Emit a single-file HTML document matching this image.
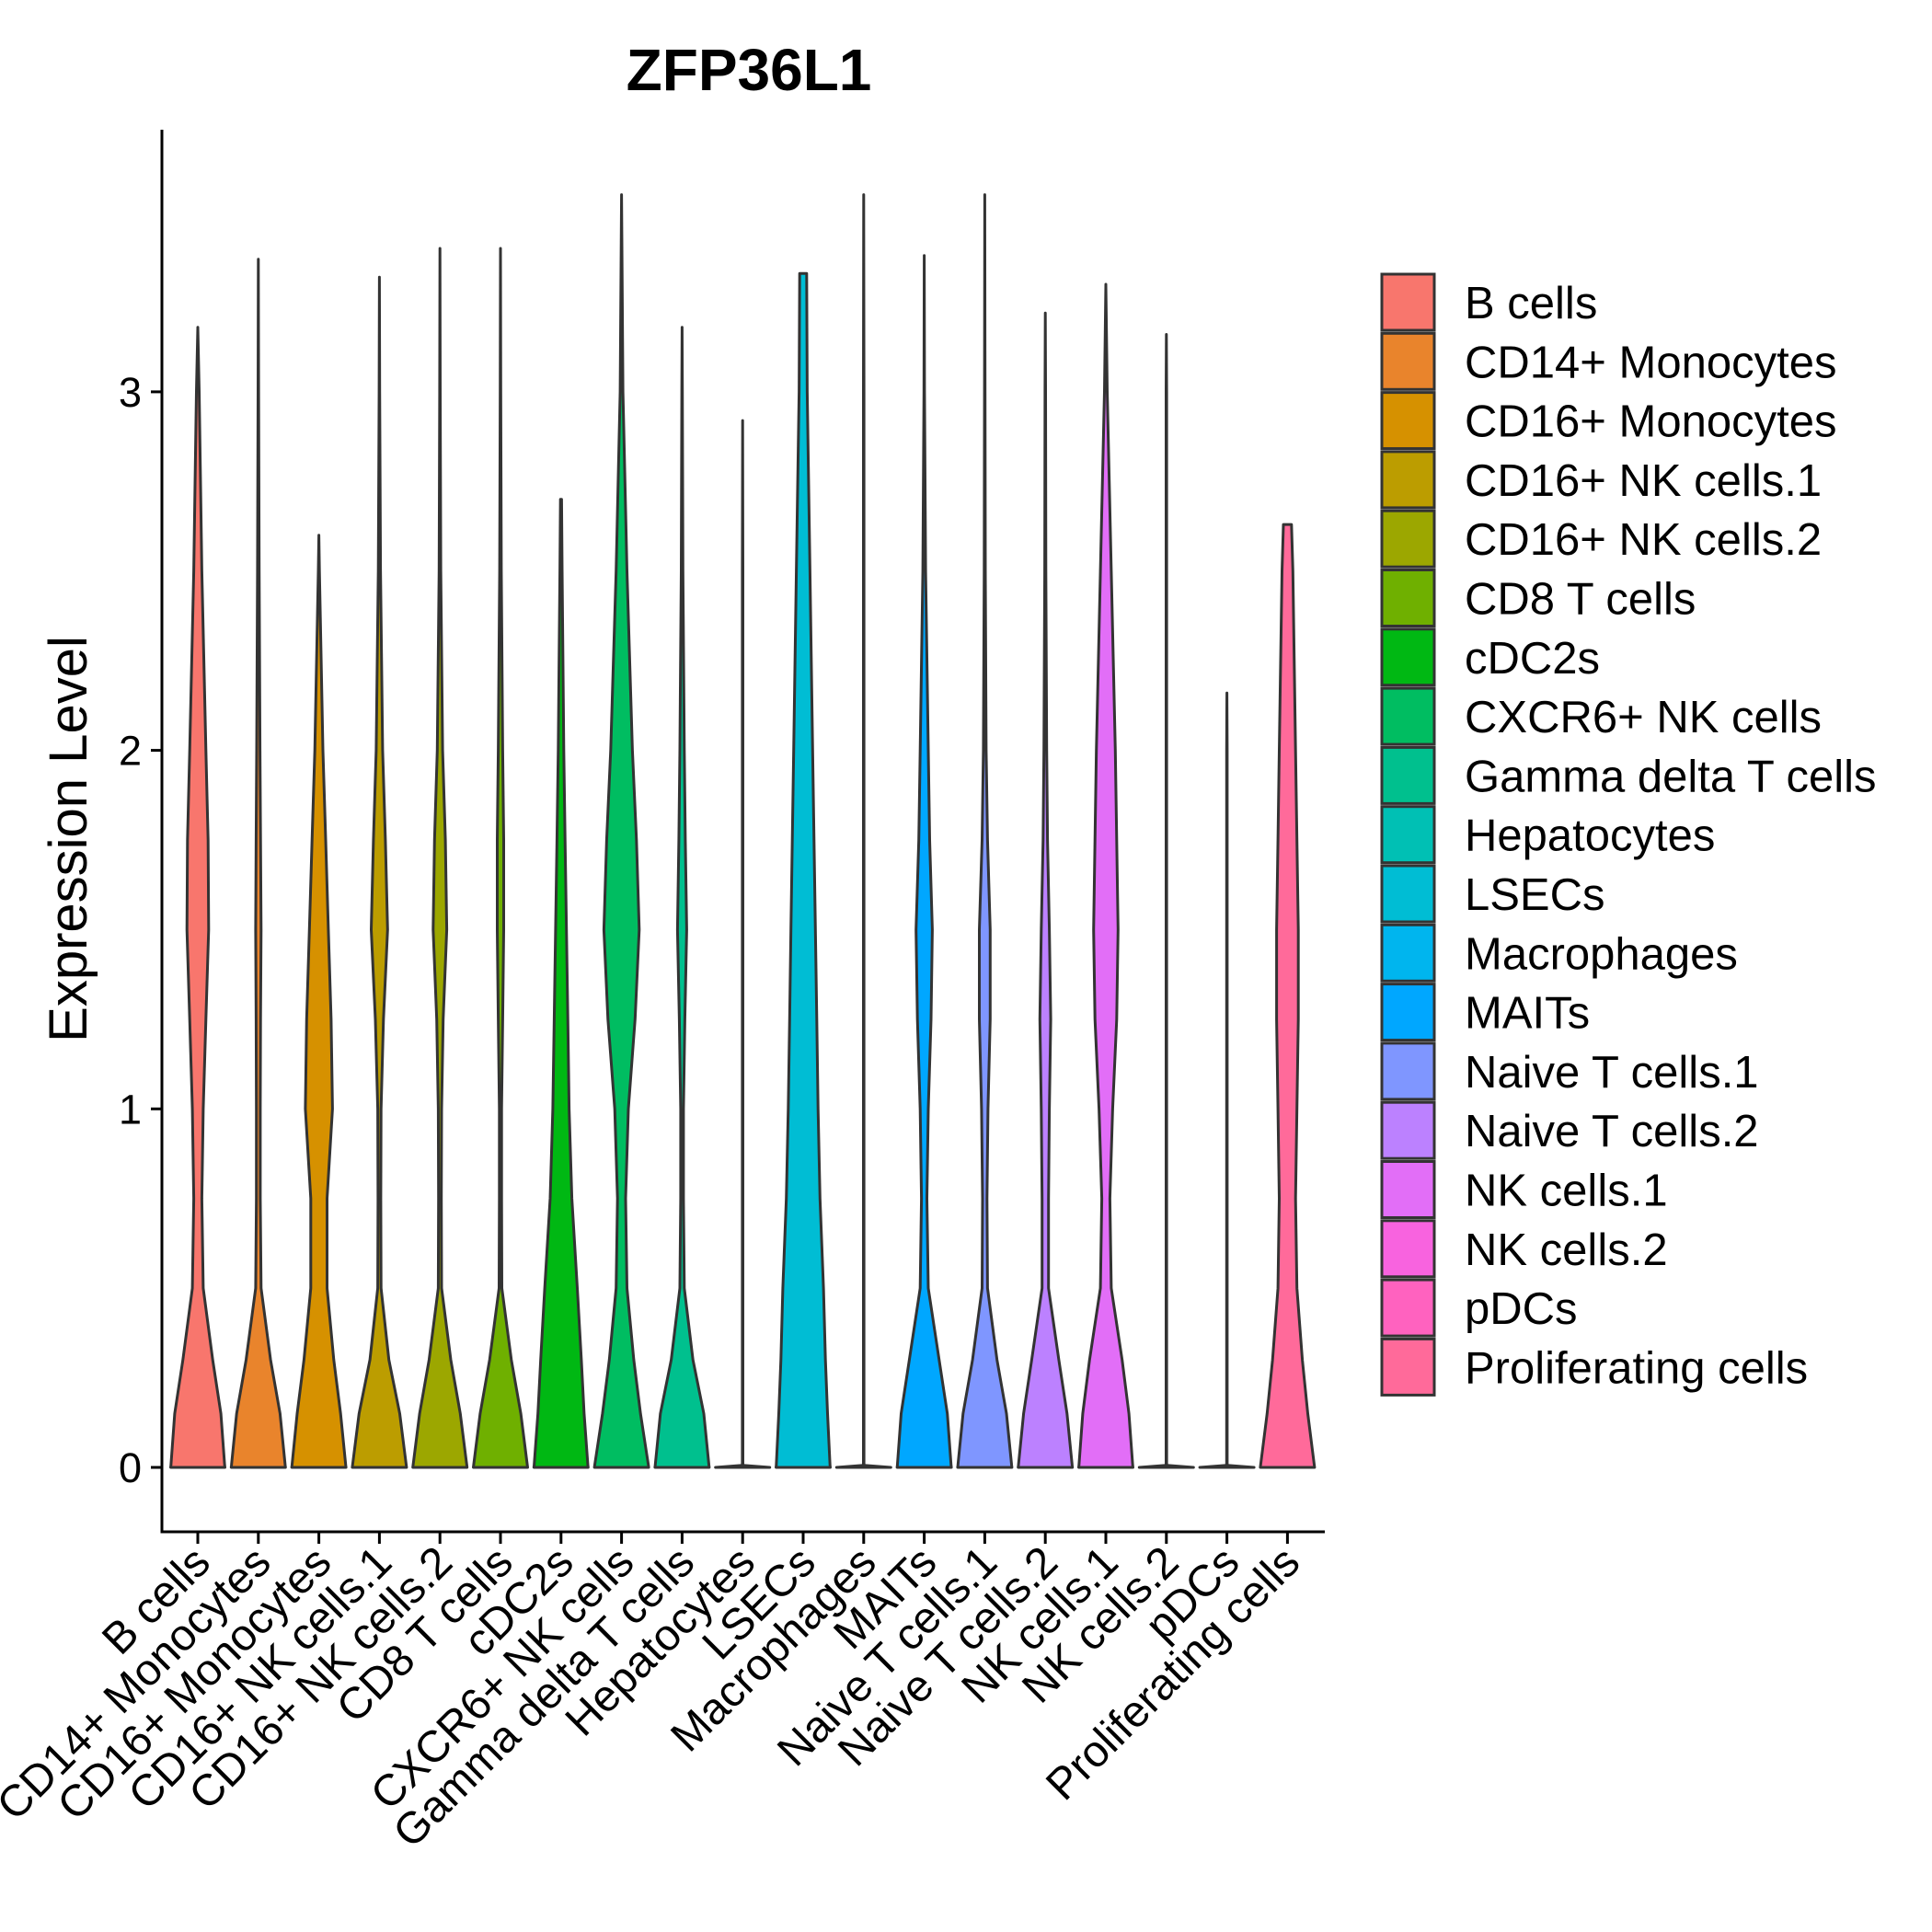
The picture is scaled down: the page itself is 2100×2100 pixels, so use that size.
<!DOCTYPE html>
<html><head><meta charset="utf-8"><style>
html,body{margin:0;padding:0;background:#fff}
svg{display:block;font-family:"Liberation Sans",Arial,sans-serif}
</style></head><body>
<svg id="chart" width="2100" height="2100" viewBox="0 0 2100 2100">
<text x="814" y="98" font-size="64" font-weight="bold" text-anchor="middle">ZFP36L1</text>
<text transform="translate(94,912) rotate(-90)" font-size="58" text-anchor="middle">Expression Level</text>
<g id="violins"></g>
<g id="axes"></g>
<g id="legend"></g>
</svg>
<script>
const categories=["B cells","CD14+ Monocytes","CD16+ Monocytes","CD16+ NK cells.1","CD16+ NK cells.2","CD8 T cells","cDC2s","CXCR6+ NK cells","Gamma delta T cells","Hepatocytes","LSECs","Macrophages","MAITs","Naive T cells.1","Naive T cells.2","NK cells.1","NK cells.2","pDCs","Proliferating cells"];
const colors=["#F8766D","#E9842C","#D69100","#BC9D00","#9CA700","#6FB000","#00B813","#00BD61","#00C08E","#00C0B4","#00BDD4","#00B5EE","#00A7FF","#7F96FF","#BC81FF","#E26EF7","#F863DF","#FF62BF","#FF6A9A"];
const maxValues=[3.18,3.37,2.6,3.32,3.4,3.4,2.7,3.55,3.18,2.92,3.33,3.55,3.38,3.55,3.22,3.3,3.16,2.16,2.63];
const topWidths=[0,0,0,0,0,0,0.02,0,0,0,0.13,0,0,0,0,0,0,0,0.15];
const levels=[0,0.006,0.15,0.3,0.5,0.75,1,1.25,1.5,1.75,2,2.5,3];
const widths=[
[1,0.99,0.85,0.55,0.2,0.15,0.2,0.3,0.4,0.38,0.3,0.15,0.05],
[1,0.99,0.8,0.45,0.1,0.07,0.07,0.08,0.1,0.08,0.06,0.03,0.01],
[1,0.99,0.8,0.55,0.3,0.3,0.5,0.45,0.35,0.25,0.15,0.02,0],
[1,0.99,0.75,0.35,0.06,0.05,0.06,0.15,0.3,0.22,0.12,0.04,0.01],
[1,0.99,0.75,0.4,0.06,0.05,0.06,0.12,0.25,0.2,0.1,0.03,0.01],
[1,0.99,0.75,0.4,0.05,0.04,0.04,0.08,0.12,0.12,0.08,0.03,0.01],
[1,0.99,0.85,0.75,0.6,0.4,0.3,0.25,0.2,0.15,0.1,0.04,0],
[1,0.99,0.7,0.45,0.2,0.15,0.25,0.5,0.65,0.55,0.4,0.2,0.05],
[1,0.99,0.8,0.4,0.08,0.05,0.05,0.1,0.17,0.12,0.08,0.03,0.01],
[1,0.01,0.01,0.01,0.01,0.01,0.01,0.01,0.01,0.01,0.01,0.01,0.01],
[1,0.99,0.9,0.82,0.75,0.62,0.55,0.5,0.45,0.4,0.35,0.25,0.15],
[1,0.01,0.01,0.01,0.01,0.01,0.01,0.01,0.01,0.01,0.01,0.01,0.01],
[1,0.99,0.85,0.55,0.15,0.1,0.15,0.25,0.3,0.2,0.15,0.05,0.01],
[1,0.99,0.8,0.45,0.1,0.08,0.12,0.2,0.2,0.1,0.05,0.02,0.01],
[1,0.99,0.8,0.5,0.12,0.12,0.15,0.2,0.15,0.08,0.05,0.02,0.01],
[1,0.99,0.85,0.6,0.2,0.15,0.25,0.4,0.45,0.4,0.35,0.2,0.05],
[1,0.01,0.01,0.01,0.01,0.01,0.01,0.01,0.01,0.01,0.01,0.01,0.01],
[1,0.01,0.01,0.01,0.01,0.01,0.01,0.01,0.01,0.01,0.01,0.01,0.01],
[1,0.99,0.75,0.55,0.35,0.3,0.35,0.4,0.4,0.35,0.3,0.2,0.15]
];
const yTicks=[0,1,2,3];

const NS="http://www.w3.org/2000/svg";
const X0=176,X1=1440,Y0=1595,UNIT=389.7,YTOP=141,YBOT=1665;
const xPos=i=>215+i*65.8;
const yPos=v=>Y0-v*UNIT;
const HALF=29.5;
function mk(tag,attrs,parent){const e=document.createElementNS(NS,tag);for(const k in attrs)e.setAttribute(k,attrs[k]);parent.appendChild(e);return e;}

const gV=document.getElementById('violins');
categories.forEach((c,i)=>{
  const cx=xPos(i),mx=maxValues[i];
  const pts=[];
  for(let j=0;j<levels.length;j++){
    if(levels[j]>=mx)break;
    pts.push([levels[j],widths[i][j]]);
  }
  pts.push([mx,topWidths[i]]);
  const right=pts.map(p=>[cx+p[1]*HALF,yPos(p[0])]);
  const left=pts.slice().reverse().map(p=>[cx-p[1]*HALF,yPos(p[0])]);
  const all=right.concat(left);
  const d="M"+all.map(p=>p[0].toFixed(1)+","+p[1].toFixed(1)).join("L")+"Z";
  const p=mk('path',{d:d,fill:colors[i],stroke:'#333333','stroke-width':3,'stroke-linejoin':'round'},gV);
  
  
});

const gA=document.getElementById('axes');
const ya=mk('line',{x1:X0,y1:YTOP,x2:X0,y2:YBOT+1.5,stroke:'#000','stroke-width':3},gA);


const xa=mk('line',{x1:X0-1.5,y1:YBOT,x2:X1,y2:YBOT,stroke:'#000','stroke-width':3},gA);


yTicks.forEach(t=>{
  const y=yPos(t);
  const l=mk('line',{x1:X0-12,y1:y,x2:X0,y2:y,stroke:'#000','stroke-width':3},gA);
  
  
  const tx=mk('text',{x:X0-22,y:y+16,'font-size':45,'text-anchor':'end'},gA);
  tx.textContent=t;
  
  
});
categories.forEach((c,i)=>{
  const x=xPos(i);
  const l=mk('line',{x1:x,y1:YBOT,x2:x,y2:YBOT+13,stroke:'#000','stroke-width':3},gA);
  
  
  const tx=mk('text',{transform:`translate(${x+16},${YBOT+36}) rotate(-45)`,'font-size':48,'text-anchor':'end'},gA);
  tx.textContent=c;
  
  
});

const gL=document.getElementById('legend');
categories.forEach((c,i)=>{
  const y=298+i*64.3;
  const r=mk('rect',{x:1502,y:y,width:57,height:61,fill:colors[i],stroke:'#333333','stroke-width':3},gL);
  
  
  const t=mk('text',{x:1592,y:y+48,'font-size':49},gL);
  t.textContent=c;
  
  
});
</script>
</body></html>
